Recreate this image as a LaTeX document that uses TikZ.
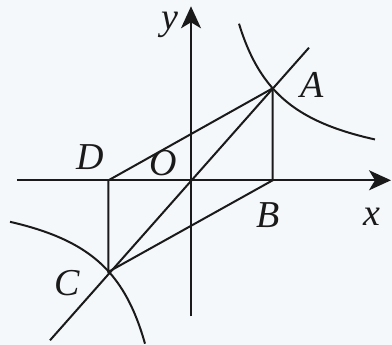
\documentclass[tikz,border=0pt]{standalone}
\usepackage{fontspec}
\setmainfont{LiberationSerif}[Extension=.ttf, UprightFont=*-Regular, ItalicFont=*-Italic, BoldFont=*-Bold]
\usetikzlibrary{arrows.meta,positioning,calc}
\definecolor{paperbg}{HTML}{F5F8FA}
\definecolor{inkblack}{HTML}{1A1A1A}
\tikzset{
  axis/.style={-{Stealth[length=22pt,width=20pt,inset=6pt]}, line width=2pt, draw=inkblack},
  seg/.style={line width=2pt, draw=inkblack},
  curve/.style={line width=2pt, draw=inkblack, smooth},
  lbl/.style={font=\fontsize{38}{38}\selectfont\itshape, text=inkblack, inner sep=0pt}
}
\begin{document}
\begin{tikzpicture}[x=1pt, y=1pt]
  % frame, origin at O
  \fill[paperbg] (-191,-164.7) rectangle (201,180.3);
  \useasboundingbox (-191,-164.7) rectangle (201,180.3);

  \coordinate (O) at (0,0);
  \coordinate (A) at (81.7,92);
  \coordinate (B) at (81.7,0);
  \coordinate (C) at (-82.5,-91.5);
  \coordinate (D) at (-82.5,0);
  \coordinate (xs) at (-174,0);
  \coordinate (xe) at (200,0);
  \coordinate (ys) at (0,-136);
  \coordinate (ye) at (0,174);
  \coordinate (ls) at (-141,-160);
  \coordinate (le) at (118,132.6);

  % axes
  \draw[axis] (xs) -- (xe);
  \draw[axis] (ys) -- (ye);

  % hyperbola branches
  \draw[curve] plot[domain=48:184, samples=60] (\x,{7516/\x});
  \draw[curve] plot[domain=-181:-46, samples=60] (\x,{7516/\x});

  % lines
  \draw[seg] (ls) -- (le);
  \draw[seg] (D) -- (A) -- (B) -- (C) -- (D);

  \node[lbl] (ylab) at (-21,155) {y};
  \node[lbl] (alab) at (121,95) {A};
  \node[lbl] (dlab) at (-101,23) {D};
  \node[lbl] (olab) at (-28,17) {O};
  \node[lbl] (blab) at (77,-35) {B};
  \node[lbl] (xlab) at (181,-36) {x};
  \node[lbl] (clab) at (-124,-103) {C};
\end{tikzpicture}
\end{document}
